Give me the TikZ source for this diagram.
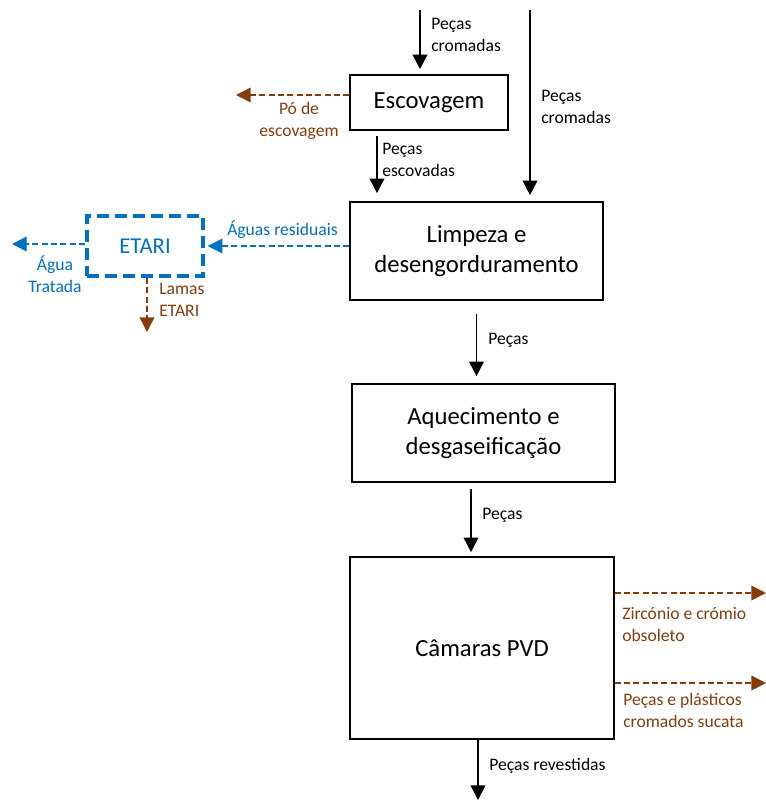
\documentclass[tikz,border=0pt]{standalone}
\usepackage{fontspec}
\setmainfont{Carlito}
\usepackage{tikz}
\usetikzlibrary{arrows.meta}
\definecolor{rust}{RGB}{132,60,12}
\definecolor{etarblue}{RGB}{0,112,192}

\begin{document}
\begin{tikzpicture}[
  x=0.75pt, y=-0.75pt,
  box/.style={draw, line width=1.2pt, inner sep=0pt, align=center, font=\fontsize{18.5}{22}\selectfont},
  lbl/.style={inner sep=0pt, align=left, font=\fontsize{13.2}{16.5}\selectfont},
  flow/.style={line width=1.2pt, -{Triangle[length=11pt,width=11pt]}},
  waste/.style={flow, rust, line width=1.1pt, dash pattern=on 4.5pt off 2.5pt},
  water/.style={flow, etarblue, line width=1.1pt, dash pattern=on 4.5pt off 2.5pt}
]
  \useasboundingbox (0,0) rectangle (766,800);

  \node[box, minimum width=118.5pt, minimum height=41.25pt] (esc) at (429,102.5) {Escovagem};
  \node[box, minimum width=189.75pt, minimum height=73.5pt] (limp) at (476.5,251) {Limpeza e\\desengorduramento};
  \node[box, minimum width=197.25pt, minimum height=73.5pt] (aq) at (483.5,433) {Aquecimento e\\desgaseificação};
  \node[box, minimum width=198pt, minimum height=136.5pt] (pvd) at (482,648) {Câmaras PVD};
  \node[box, etarblue, line width=3pt, dash pattern=on 9pt off 4.5pt,
        minimum width=87pt, minimum height=45pt, font=\fontsize{17}{20}\selectfont] (etari) at (145,246) {ETARI};

  \coordinate (in1) at (420,10);
  \coordinate (in2) at (530,10);
  \coordinate (esx) at (377,135);
  \coordinate (aqx) at (471,488);
  \coordinate (outfim) at (478,800);
  \coordinate (pofim) at (236,95);
  \coordinate (aguafim) at (12,244);
  \coordinate (lamasfim) at (147,332);
  \coordinate (zrfim) at (766,593);
  \coordinate (sucfim) at (766,683);

  \draw[flow, shorten >=3.75pt] (in1) -- (in1 |- esc.north);
  \draw[flow, shorten >=4.5pt] (in2) -- (in2 |- limp.north);
  \draw[flow, shorten <=3.75pt, shorten >=6pt] (esx |- esc.south) -- (esx |- limp.north);
  \draw[flow, shorten <=9.75pt, shorten >=5.25pt] (limp.south) -- (limp.south |- aq.north);
  \draw[flow, shorten <=4.5pt, shorten >=3pt] (aqx |- aq.south) -- (aqx |- pvd.north);
  \draw[flow] (outfim |- pvd.south) -- (outfim);

  \draw[waste] (pofim -| esc.west) -- (pofim);
  \draw[water, shorten >=2pt] (etari.east -| limp.west) -- (etari.east);
  \draw[water] (aguafim -| etari.west) -- (aguafim);
  \draw[waste] (lamasfim |- etari.south) -- (lamasfim);
  \draw[waste] (zrfim -| pvd.east) -- (zrfim);
  \draw[waste] (sucfim -| pvd.east) -- (sucfim);

  \node[lbl, anchor=north west] (lcrom1) at (431,18) {Peças\\cromadas};
  \node[lbl, anchor=north west] (lcrom2) at (541,90) {Peças\\cromadas};
  \node[lbl, anchor=north west] (lescov) at (382,143) {Peças\\escovadas};
  \node[lbl, rust, align=center, anchor=north] (lpo) at (299,102) {Pó de\\escovagem};
  \node[lbl, etarblue, anchor=base west] (lres) at (227,235) {Águas residuais};
  \node[lbl, etarblue, align=center, anchor=north] (lagua) at (55,256) {Água\\Tratada};
  \node[lbl, rust, anchor=north west] (llamas) at (159,283) {Lamas\\ETARI};
  \node[lbl, anchor=base west] (lp1) at (488,344) {Peças};
  \node[lbl, anchor=base west] (lp2) at (482,519) {Peças};
  \node[lbl, rust, anchor=north west] (lzr) at (622,607) {Zircónio e crómio\\obsoleto};
  \node[lbl, rust, anchor=north west] (lsuc) at (623,693) {Peças e plásticos\\cromados sucata};
  \node[lbl, anchor=base west] (lrev) at (489,770) {Peças revestidas};
\end{tikzpicture}
\end{document}
